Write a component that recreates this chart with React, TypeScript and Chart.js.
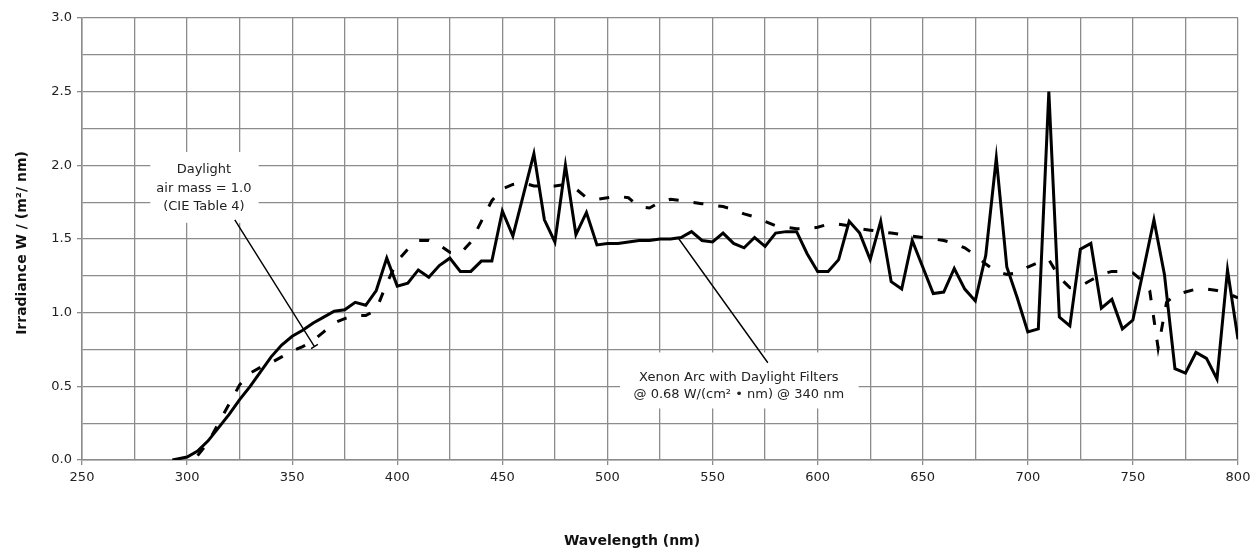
import React, { useEffect, useRef } from "react";
import { Chart, registerables } from "chart.js";

Chart.register(...registerables);

// Xenon arc with daylight filters (solid)
const xenonWl = [293, 300, 305, 310, 315, 320, 325, 330, 335, 340, 345, 350, 355, 360, 365, 370, 375, 380, 385, 390, 395, 400, 405, 410, 415, 420, 425, 430, 435, 440, 445, 450, 455, 460, 465, 470, 475, 480, 485, 490, 495, 500, 505, 510, 515, 520, 525, 530, 535, 540, 545, 550, 555, 560, 565, 570, 575, 580, 585, 590, 595, 600, 605, 610, 615, 620, 625, 630, 635, 640, 645, 650, 655, 660, 665, 670, 675, 680, 685, 690, 695, 700, 705, 710, 715, 720, 725, 730, 735, 740, 745, 750, 755, 760, 765, 770, 775, 780, 785, 790, 795, 800];
const xenonVal = [0.0, 0.02, 0.06, 0.13, 0.22, 0.31, 0.41, 0.5, 0.6, 0.7, 0.78, 0.84, 0.88, 0.93, 0.97, 1.01, 1.02, 1.07, 1.05, 1.15, 1.37, 1.18, 1.2, 1.29, 1.24, 1.32, 1.37, 1.28, 1.28, 1.35, 1.35, 1.69, 1.52, 1.8, 2.08, 1.63, 1.48, 2.0, 1.53, 1.68, 1.46, 1.47, 1.47, 1.48, 1.49, 1.49, 1.5, 1.5, 1.51, 1.55, 1.49, 1.48, 1.54, 1.47, 1.44, 1.51, 1.45, 1.54, 1.55, 1.55, 1.4, 1.28, 1.28, 1.36, 1.62, 1.54, 1.36, 1.62, 1.21, 1.16, 1.49, 1.31, 1.13, 1.14, 1.3, 1.16, 1.08, 1.39, 2.05, 1.31, 1.1, 0.87, 0.89, 2.5, 0.97, 0.91, 1.43, 1.47, 1.03, 1.09, 0.89, 0.95, 1.29, 1.63, 1.26, 0.62, 0.59, 0.73, 0.69, 0.55, 1.29, 0.82];

// Daylight, air mass = 1.0 (CIE Table 4) (dashed)
const dayWl = [305, 310, 315, 320, 325, 330, 335, 340, 345, 350, 355, 360, 365, 370, 375, 380, 385, 390, 395, 400, 405, 410, 415, 420, 425, 430, 435, 440, 445, 450, 455, 460, 465, 470, 475, 480, 485, 490, 495, 500, 505, 510, 515, 520, 525, 530, 535, 540, 545, 550, 555, 560, 565, 570, 575, 580, 585, 590, 595, 600, 605, 610, 615, 620, 625, 630, 635, 640, 645, 650, 655, 660, 665, 670, 675, 680, 685, 690, 695, 700, 705, 710, 715, 720, 725, 730, 735, 740, 745, 750, 755, 758, 762, 766, 770, 775, 780, 785, 790, 795, 800];
const dayVal = [0.03, 0.12, 0.25, 0.38, 0.51, 0.59, 0.63, 0.66, 0.7, 0.74, 0.77, 0.81, 0.87, 0.93, 0.96, 0.98, 0.98, 1.02, 1.2, 1.35, 1.43, 1.49, 1.49, 1.46, 1.41, 1.4, 1.48, 1.62, 1.76, 1.84, 1.87, 1.88, 1.86, 1.86, 1.86, 1.87, 1.84, 1.78, 1.77, 1.78, 1.79, 1.78, 1.72, 1.71, 1.75, 1.77, 1.76, 1.75, 1.74, 1.73, 1.72, 1.7, 1.67, 1.65, 1.62, 1.59, 1.58, 1.57, 1.57, 1.58, 1.6, 1.6, 1.59, 1.57, 1.56, 1.55, 1.54, 1.53, 1.52, 1.51, 1.5, 1.49, 1.47, 1.44, 1.39, 1.33, 1.28, 1.26, 1.27, 1.31, 1.34, 1.36, 1.24, 1.17, 1.18, 1.22, 1.26, 1.28, 1.28, 1.27, 1.21, 1.15, 0.76, 1.07, 1.12, 1.14, 1.16, 1.16, 1.15, 1.13, 1.1];

const xTitle = "Wavelength (nm)";
const yTitle = "Irradiance W / (m\u00b2/ nm)";
const dayLabel = ["Daylight", "air mass = 1.0", "(CIE Table 4)"];
const xenonLabel = ["Xenon Arc with Daylight Filters", "@ 0.68 W/(cm\u00b2 \u2022 nm) @ 340 nm"];

const GRID = "#8c8c8c";
const FONT = "'DejaVu Sans', Verdana, sans-serif";

const annotPlugin = {
  id: "annot",
  beforeDatasetsDraw(chart: any) {
    const { ctx, scales } = chart;
    const x = scales.x, y = scales.y;
    ctx.save();
    ctx.fillStyle = "#ffffff";
    let x0 = x.getPixelForValue(282.5), x1 = x.getPixelForValue(334);
    let y0 = y.getPixelForValue(2.09), y1 = y.getPixelForValue(1.61);
    ctx.fillRect(x0, y0, x1 - x0, y1 - y0);
    x0 = x.getPixelForValue(506); x1 = x.getPixelForValue(619.5);
    y0 = y.getPixelForValue(0.73); y1 = y.getPixelForValue(0.35);
    ctx.fillRect(x0, y0, x1 - x0, y1 - y0);
    ctx.restore();
  },
  afterDatasetsDraw(chart: any) {
    const { ctx, scales } = chart;
    const x = scales.x, y = scales.y;
    ctx.save();
    ctx.strokeStyle = "#000";
    ctx.lineWidth = 1.4;
    const ax = x.getPixelForValue(322.7), ay = y.getPixelForValue(1.63);
    const bx = x.getPixelForValue(360.6), by = y.getPixelForValue(0.77);
    ctx.beginPath();
    ctx.moveTo(ax, ay);
    ctx.lineTo(bx, by);
    const dx = bx - ax, dy = by - ay, len = Math.hypot(dx, dy);
    const px = (-dy / len) * 4, py = (dx / len) * 4;
    ctx.moveTo(bx - px, by - py);
    ctx.lineTo(bx + px, by + py);
    ctx.moveTo(x.getPixelForValue(533.5), y.getPixelForValue(1.51));
    ctx.lineTo(x.getPixelForValue(576.3), y.getPixelForValue(0.66));
    ctx.stroke();

    ctx.fillStyle = "#222";
    ctx.font = `13px ${FONT}`;
    ctx.textAlign = "center";
    ctx.textBaseline = "middle";
    const dayY = [1.97, 1.84, 1.72];
    dayLabel.forEach((t, i) => ctx.fillText(t, x.getPixelForValue(308), y.getPixelForValue(dayY[i])));
    const xeY = [0.56, 0.445];
    xenonLabel.forEach((t, i) => ctx.fillText(t, x.getPixelForValue(562.5), y.getPixelForValue(xeY[i])));

    ctx.font = `bold 14px ${FONT}`;
    ctx.fillStyle = "#111";
    ctx.fillText(xTitle, 632, 541);
    ctx.translate(22, 243);
    ctx.rotate(-Math.PI / 2);
    ctx.fillText(yTitle, 0, 0);
    ctx.restore();
  },
};

export default function App() {
  const ref = useRef<HTMLCanvasElement>(null);
  useEffect(() => {
    if (!ref.current) return;
    const chart = new Chart(ref.current, {
      type: "line",
      data: {
        datasets: [
          {
            label: "Daylight",
            data: dayWl.map((w, i) => ({ x: w, y: dayVal[i] })),
            borderColor: "#000",
            borderWidth: 3,
            borderDash: [10, 15],
            pointRadius: 0,
            tension: 0,
            fill: false,
          },
          {
            label: "Xenon",
            data: xenonWl.map((w, i) => ({ x: w, y: xenonVal[i] })),
            borderColor: "#000",
            borderWidth: 3,
            pointRadius: 0,
            tension: 0,
            fill: false,
          },
        ],
      },
      options: {
        animation: false,
        responsive: false,
        layout: { padding: { top: 18, right: 14, left: 0, bottom: 0 } },
        plugins: { legend: { display: false }, tooltip: { enabled: false }, title: { display: false } },
        scales: {
          x: {
            type: "linear",
            min: 250,
            max: 800,
            afterFit: (s: any) => { s.height = 94; s.paddingLeft = 0; s.paddingRight = 0; },
            ticks: {
              stepSize: 25,
              autoSkip: false,
              maxRotation: 0,
              padding: 5,
              color: "#222",
              font: { family: FONT, size: 13 },
              callback: (v: any) => (Number(v) % 50 === 0 ? String(v) : ""),
            },
            grid: {
              color: GRID,
              lineWidth: 1.3,
              tickLength: 5,
              tickColor: (c: any) => (c.tick && c.tick.value % 50 === 0 ? GRID : "rgba(0,0,0,0)"),
            },
            border: { color: GRID, width: 1.5 },
          },
          y: {
            type: "linear",
            min: 0,
            max: 3,
            afterFit: (s: any) => { s.width = 82; s.paddingTop = 0; s.paddingBottom = 0; },
            ticks: {
              stepSize: 0.25,
              autoSkip: false,
              padding: 5,
              color: "#222",
              font: { family: FONT, size: 13 },
              callback: (v: any) => {
                const n = Number(v);
                return Math.abs(n * 2 - Math.round(n * 2)) < 1e-6 ? n.toFixed(1) : "";
              },
            },
            grid: {
              color: GRID,
              lineWidth: 1.3,
              tickLength: 5,
              tickColor: (c: any) => {
                const n = c.tick ? c.tick.value : 0;
                return Math.abs(n * 2 - Math.round(n * 2)) < 1e-6 ? GRID : "rgba(0,0,0,0)";
              },
            },
            border: { color: GRID, width: 1.5 },
          },
        },
      },
      plugins: [annotPlugin],
    });
    return () => chart.destroy();
  }, []);
  return (
    <div style={{ position: "absolute", left: 0, top: 0, width: 1252, height: 554, background: "#fff" }}>
      <canvas ref={ref} width={1252} height={554} style={{ width: 1252, height: 554 }} />
    </div>
  );
}
